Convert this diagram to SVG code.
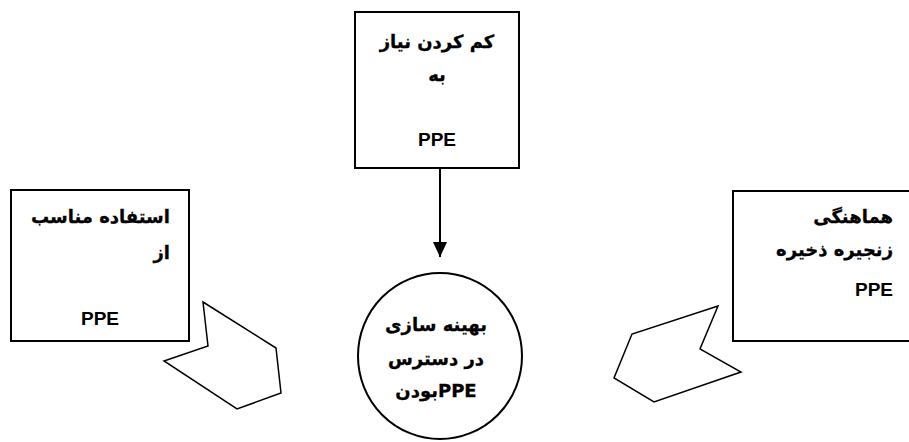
<svg xmlns="http://www.w3.org/2000/svg" width="909" height="442" viewBox="0 0 909 442">
<defs>
<style>
.box{fill:#fff;stroke:#000;stroke-width:2}
.shape{fill:#fff;stroke:#000;stroke-width:1.5;stroke-linejoin:miter}
.fa{font-family:"DejaVu Sans","Noto Sans",sans-serif;font-weight:bold;font-size:18px;fill:#000;stroke:#000;stroke-width:0.3}
.en{font-family:"Liberation Sans","DejaVu Sans",sans-serif;font-weight:bold;font-size:19px;fill:#000}
.conn{stroke:#000;stroke-width:2;fill:none}
</style>
<marker id="arrow" viewBox="0 0 16 15" refX="16" refY="7.5" markerWidth="15" markerHeight="16" markerUnits="userSpaceOnUse" orient="auto">
<path d="M0,0 L16,7.5 L0,15 Z" fill="#000"/>
</marker>
</defs>
<rect width="909" height="442" fill="#fff"/>
<g id="node-top">
<rect class="box" x="355" y="12" width="164" height="156"/>
<text class="fa" x="437" y="48" text-anchor="middle">کم کردن نیاز</text>
<text class="fa" x="437" y="81" text-anchor="middle">به</text>
<text class="en" x="437" y="146" text-anchor="middle">PPE</text>
</g>
<g id="node-left">
<rect class="box" x="11" y="190" width="178" height="151"/>
<text class="fa" x="170" y="223" text-anchor="end">استفاده مناسب</text>
<text class="fa" x="170" y="259" text-anchor="end">از</text>
<text class="en" x="100" y="325" text-anchor="middle">PPE</text>
</g>
<g id="node-right">
<rect class="box" x="733" y="191" width="190" height="150"/>
<text class="fa" x="893" y="223" text-anchor="end">هماهنگی</text>
<text class="fa" x="893" y="256" text-anchor="end">زنجیره ذخیره</text>
<text class="en" x="893" y="296" text-anchor="end">PPE</text>
</g>
<g id="node-center">
<ellipse class="box" cx="440" cy="356" rx="82" ry="83"/>
<text class="fa" x="436" y="331" text-anchor="middle">بهینه سازی</text>
<text class="fa" x="436" y="365" text-anchor="middle">در دسترس</text>
<text class="fa" x="436" y="397" text-anchor="middle" direction="rtl">PPEبودن</text>
</g>
<g id="shape-left">
<polygon class="shape" points="203,302 276,348 281,393 237,409 164,361 208,346"/>
</g>
<g id="shape-right">
<polygon class="shape" points="718,306 700,349 741,372 654,402 614,378 632,334"/>
</g>
<g id="connectors">
<line class="conn" x1="440" y1="168" x2="440" y2="257" marker-end="url(#arrow)"/>
</g>
</svg>
